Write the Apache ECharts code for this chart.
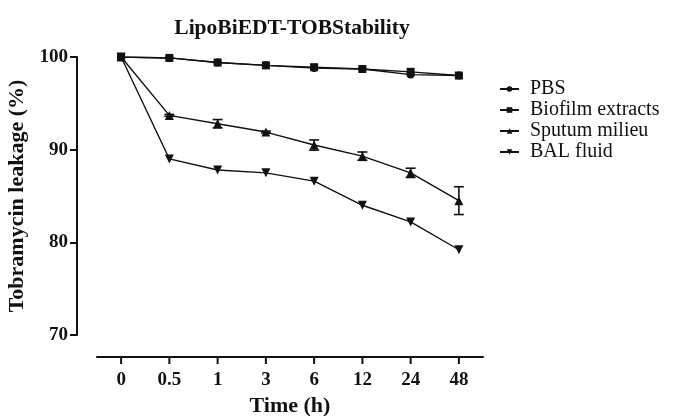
<!DOCTYPE html>
<html>
<head>
<meta charset="utf-8">
<script src="https://cdn.jsdelivr.net/npm/echarts@6/dist/echarts.min.js"></script>
<style>html,body{margin:0;padding:0;background:#fff;}#c{width:675px;height:416px;}</style>
</head>
<body>
<div id="c"></div>
<script>
var categories = ['0', '0.5', '1', '3', '6', '12', '24', '48'];
var pbs = [100, 99.9, 99.4, 99.1, 98.8, 98.7, 98.1, 98.0];
var biofilm = [100, 99.9, 99.4, 99.1, 98.9, 98.7, 98.4, 98.0];
var sputum = [100, 93.7, 92.8, 91.9, 90.5, 89.3, 87.5, 84.5];
var sputumErr = [0, 0.1, 0.45, 0.1, 0.55, 0.45, 0.5, 1.5];
var bal = [100, 89.0, 87.8, 87.5, 86.6, 84.0, 82.2, 79.2];
var yTicks = [70, 80, 90, 100];
var Y_MIN = 70, Y_MAX = 100;

var FONT = '"Liberation Serif", "DejaVu Serif", serif';
var X_OFFSET = 22, TICK_LEN = 7;
var chart = echarts.init(document.getElementById('c'));

var errData = sputum.map(function (v, i) { return [i, v, sputumErr[i]]; });
var tickData = categories.map(function (c, i) { return [i, Y_MIN]; });

function lineSeries(name, data, symbol, size, rotate) {
  return {
    name: name, type: 'line', data: data,
    symbol: symbol, symbolSize: size, symbolRotate: rotate || 0,
    lineStyle: { color: '#111', width: 1.4 },
    itemStyle: { color: '#111' },
    emphasis: { disabled: true },
    animation: false
  };
}

chart.setOption({
  animation: false,
  title: {
    text: 'LipoBiEDT-TOBStability',
    left: 287, top: 12, textAlign: 'center',
    textStyle: { fontFamily: FONT, fontWeight: 'bold', fontSize: 21.5, color: '#111' }
  },
  legend: {
    data: ['PBS', 'Biofilm extracts', 'Sputum milieu', 'BAL fluid'],
    orient: 'vertical', left: 494, top: 74,
    itemWidth: 19, itemHeight: 7, itemGap: 1,
    textStyle: { fontFamily: FONT, fontSize: 20, lineHeight: 20, color: '#111', padding: [0, 0, 0, 6] }
  },
  grid: { left: 97, right: 192, top: 57, bottom: 81, outerBoundsMode: 'none', containLabel: false },
  xAxis: {
    type: 'category', data: categories, boundaryGap: true, offset: X_OFFSET,
    name: 'Time (h)', nameLocation: 'middle', nameGap: 38,
    nameTextStyle: { fontFamily: FONT, fontWeight: 'bold', fontSize: 22, color: '#111', verticalAlign: 'top' },
    axisLine: { show: true, lineStyle: { color: '#111', width: 2 } },
    axisTick: { show: false },
    axisLabel: { fontFamily: FONT, fontWeight: 'bold', fontSize: 19, color: '#111', margin: 14, interval: 0 },
    splitLine: { show: false }
  },
  yAxis: {
    type: 'value', min: Y_MIN, max: Y_MAX, interval: 10, offset: 20,
    name: 'Tobramycin leakage (%)', nameLocation: 'middle', nameGap: 40, nameRotate: 90,
    nameTextStyle: { fontFamily: FONT, fontWeight: 'bold', fontSize: 22, color: '#111' },
    axisLine: { show: true, lineStyle: { color: '#111', width: 2 } },
    axisTick: { show: true, length: TICK_LEN, lineStyle: { color: '#111', width: 2 } },
    axisLabel: {
      fontFamily: FONT, fontWeight: 'bold', fontSize: 19, color: '#111', margin: 9,
      formatter: function (v) { return yTicks.indexOf(v) >= 0 ? String(v) : ''; }
    },
    splitLine: { show: false }
  },
  series: [
    {
      name: 'xticks', type: 'custom', data: tickData, clip: false, silent: true,
      encode: { x: 0, y: 1 },
      renderItem: function (params, api) {
        var p = api.coord([api.value(0), api.value(1)]);
        var y0 = p[1] + X_OFFSET;
        return {
          type: 'line',
          shape: { x1: p[0], y1: y0, x2: p[0], y2: y0 + TICK_LEN },
          style: { stroke: '#111', lineWidth: 2 }
        };
      },
      animation: false
    },
    {
      name: 'err', type: 'custom', data: errData, z: 3,
      encode: { x: 0, y: 1 },
      renderItem: function (params, api) {
        var i = api.value(0), v = api.value(1), e = api.value(2);
        if (!e) return;
        var hi = api.coord([i, v + e]);
        var lo = api.coord([i, v - e]);
        var w = 5;
        var st = { stroke: '#111', lineWidth: 1.6 };
        return {
          type: 'group',
          children: [
            { type: 'line', shape: { x1: hi[0], y1: hi[1], x2: lo[0], y2: lo[1] }, style: st },
            { type: 'line', shape: { x1: hi[0] - w, y1: hi[1], x2: hi[0] + w, y2: hi[1] }, style: st },
            { type: 'line', shape: { x1: lo[0] - w, y1: lo[1], x2: lo[0] + w, y2: lo[1] }, style: st }
          ]
        };
      },
      animation: false
    },
    lineSeries('PBS', pbs, 'circle', 8),
    lineSeries('Biofilm extracts', biofilm, 'rect', 8),
    lineSeries('Sputum milieu', sputum, 'triangle', 9),
    lineSeries('BAL fluid', bal, 'triangle', 9, 180)
  ]
});
</script>
</body>
</html>
